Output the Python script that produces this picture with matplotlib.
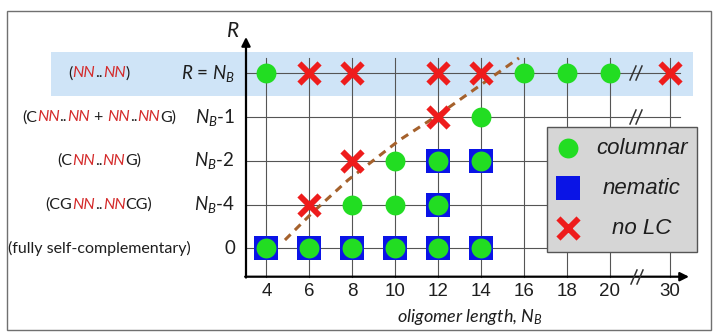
import numpy as np
import matplotlib
matplotlib.use('Agg')
import matplotlib.pyplot as plt
from matplotlib.markers import MarkerStyle
from matplotlib.patches import Rectangle
from matplotlib.offsetbox import TextArea, HPacker, AnnotationBbox

plt.rcParams['mathtext.fontset'] = 'custom'
plt.rcParams['mathtext.rm'] = 'Lato'
plt.rcParams['mathtext.it'] = 'Lato:italic'

# oligomer lengths on the x axis (30 sits after an axis break)
nb_ticks = [4, 6, 8, 10, 12, 14, 16, 18, 20, 30]
tick_pos = [0, 1, 2, 3, 4, 5, 6, 7, 8, 9.41]

# rows: 4 = R=N_B, 3 = N_B-1, 2 = N_B-2, 1 = N_B-4, 0 = fully self-complementary
col_nb = [4, 16, 18, 20, 14, 10, 12, 14, 8, 10, 12, 4, 6, 8, 10, 12, 14]
col_row = [4, 4, 4, 4, 3, 2, 2, 2, 1, 1, 1, 0, 0, 0, 0, 0, 0]
nem_nb = [12, 14, 12, 4, 6, 8, 10, 12, 14]
nem_row = [2, 2, 1, 0, 0, 0, 0, 0, 0]
nolc_nb = [6, 8, 12, 14, 30, 12, 8, 6]
nolc_row = [4, 4, 4, 4, 4, 3, 2, 1]

# boundary guide
bound_nb = [4.86, 6.17, 7.80, 10.22, 11.95, 15.77]
bound_row = [0.19, 0.83, 1.56, 2.48, 3.03, 4.35]

RED = '#d42a2a'
TXT = '#1e1e1e'

fig = plt.figure(figsize=(7.15, 3.32), dpi=100)
ax = fig.add_axes([0, 0, 1, 1])
ax.set_axis_off()

# pixel layout helpers
X0, DX, Y0, DY = 266.5, 42.9, 248.3, 43.75
def px(x):
    return (x - X0) / DX
def py(y):
    return (Y0 - y) / DY

ax.set_xlim(px(0), px(715))
ax.set_ylim(py(332), py(0))

def xpos(nb):
    return np.interp(nb, nb_ticks, tick_pos)

# frame around the whole figure
ax.add_patch(Rectangle((px(7), py(330)), px(711) - px(7), py(11) - py(330),
                       fill=False, ec='#707070', lw=1.0, zorder=0))

# highlighted top row
ax.add_patch(Rectangle((px(51), py(96)), px(693) - px(51), py(52) - py(96),
                       fc='#cfe4f7', ec='none', zorder=0))

# grid
xa, ya = py(276.7), px(246)
for p in tick_pos:
    ax.plot([p, p], [xa, py(58)], color='#555555', lw=0.8, zorder=1)
for r in range(5):
    ax.plot([ya, px(680)], [r, r], color='#555555', lw=0.8, zorder=1)

# axes with arrows
ax.annotate('', xy=(px(689), xa), xytext=(ya - 0.02, xa),
            arrowprops=dict(arrowstyle='-|>', lw=1.6, color='black',
                            mutation_scale=13, shrinkA=0, shrinkB=0), zorder=3)
ax.annotate('', xy=(ya, py(37)), xytext=(ya, xa - 0.02),
            arrowprops=dict(arrowstyle='-|>', lw=1.6, color='black',
                            mutation_scale=13, shrinkA=0, shrinkB=0), zorder=3)

# axis break marks
def brk(xc, yc):
    for off in (-3, 3):
        ax.plot([px(xc + off - 3), px(xc + off + 3)], [py(yc + 7), py(yc - 7)],
                color='#333333', lw=1.1, zorder=3)
brk(636, 73)
brk(636, 117)
brk(637, 277)

# tick labels
for v, p in zip(nb_ticks, tick_pos):
    ax.text(p, py(292), str(v), ha='center', va='center', fontsize=13.5,
            family='Liberation Sans', color=TXT)
ax.text(px(470), py(317), 'oligomer length, $N_B$', ha='center', va='center',
        fontsize=13, family='Lato', style='italic', color=TXT)
ax.text(px(233), py(31), '$R$', ha='center', va='center', fontsize=15,
        color=TXT)

# phase boundary
ax.plot(xpos(np.array(bound_nb)), bound_row, color='#a5612c', lw=2.2,
        ls=(0, (2.6, 2.0)), zorder=2)

# markers
ax.scatter(xpos(np.array(nem_nb)), nem_row, marker='s', s=275, color='#0a14e6',
           zorder=4, linewidths=0)
ax.scatter(xpos(np.array(col_nb)), col_row, marker='o', s=205, color='#22dd22',
           zorder=5, linewidths=0)
xm = MarkerStyle('x', capstyle='round')
ax.scatter(xpos(np.array(nolc_nb)), nolc_row, marker=xm, s=210, color='#ee1c1c',
           linewidths=4.2, zorder=5)

# legend
ax.add_patch(Rectangle((px(547), py(252)), px(697) - px(547), py(127) - py(252),
                       fc='#d6d6d6', ec='#555555', lw=1.0, zorder=6))
leg_y = [148, 188, 228]
ax.scatter([px(568)], [py(leg_y[0])], marker='o', s=205, color='#22dd22',
           zorder=7, linewidths=0)
ax.scatter([px(568)], [py(leg_y[1])], marker='s', s=275, color='#0a14e6',
           zorder=7, linewidths=0)
ax.scatter([px(568)], [py(leg_y[2])], marker=xm, s=210, color='#ee1c1c',
           linewidths=4.2, zorder=7)
for name, y in zip(['columnar', 'nematic', 'no LC'], leg_y):
    ax.text(px(642), py(y), name, ha='center', va='center', fontsize=16,
            family='Liberation Sans', style='italic', color=TXT, zorder=8)

# left-hand row labels, mixed colours
def rich(parts, xy, align):
    boxes = []
    for s, red in parts:
        props = dict(color=RED if red else TXT, fontsize=11.5, family='Lato',
                     style='italic' if red else 'normal')
        boxes.append(TextArea(s, textprops=props))
    pack = HPacker(children=boxes, align='baseline', pad=0, sep=0)
    ab = AnnotationBbox(pack, xy, xycoords='data', frameon=False,
                        box_alignment=align, pad=0, zorder=8)
    ax.add_artist(ab)

desc = [
    [('(', 0), ('NN', 1), ('..', 0), ('NN', 1), (')', 0)],
    [('(C', 0), ('NN', 1), ('..', 0), ('NN', 1), (' + ', 0), ('NN', 1), ('..', 0),
     ('NN', 1), ('G)', 0)],
    [('(C', 0), ('NN', 1), ('..', 0), ('NN', 1), ('G)', 0)],
    [('(CG', 0), ('NN', 1), ('..', 0), ('NN', 1), ('CG)', 0)],
    [('(fully self-complementary)', 0)],
]
r_labels = ['$R$ = $N_B$', '$N_B$-1', '$N_B$-2', '$N_B$-4', '0']
for i, (d, rl) in enumerate(zip(desc, r_labels)):
    row = 4 - i
    rich(d, (px(99), row), (0.5, 0.5))
    ax.text(px(235), row, rl, ha='right', va='center', fontsize=13.5,
            family='Lato', color=TXT)

fig.savefig('out.png', dpi=100)
